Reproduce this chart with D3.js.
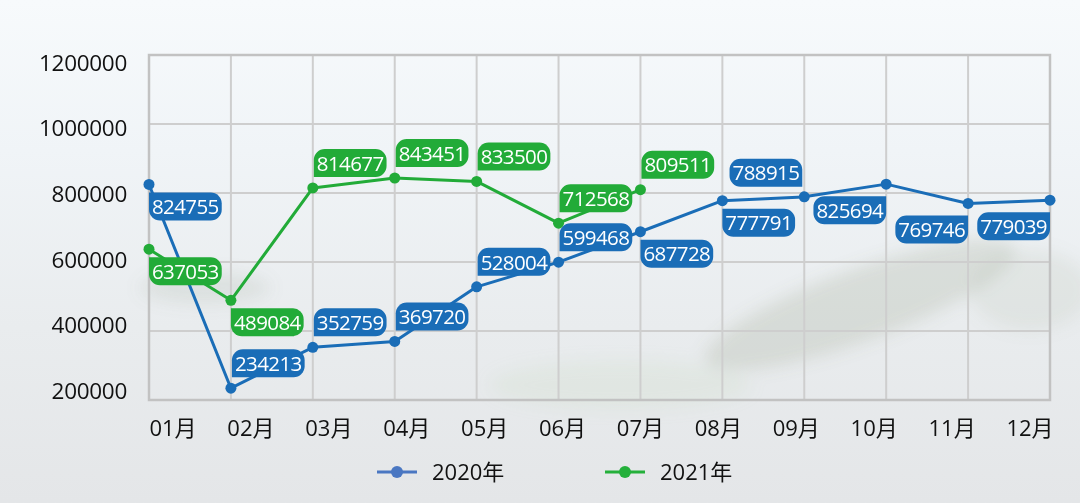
<!DOCTYPE html>
<html><head><meta charset="utf-8">
<script src="https://cdn.jsdelivr.net/npm/d3@7"></script>
<style>html,body{margin:0;padding:0;overflow:hidden;background:#eceff1}</style>
</head><body><svg id="c" width="1080" height="503"></svg>
<script>
const months = ["01月","02月","03月","04月","05月","06月","07月","08月","09月","10月","11月","12月"];
const values2020 = [824755,234213,352759,369720,528004,599468,687728,777791,788915,825694,769746,779039];
const values2021 = [637053,489084,814677,843451,833500,712568,809511];
const yTicks = [200000,400000,600000,800000,1000000,1200000];
const seriesNames = ["2020年","2021年"];
// label placement codes (styling only)
const place2020 = ["dr","ur","ur","ur","ur","ur","dr","dr","ul","dl","dl","dl"];
const place2021 = ["dr","dr","ur","ur","ur","ur","ur"];

(function(){
const W = 1080, H = 503;
const svg = d3.select("#c");
const defs = svg.append("defs");

const bg = defs.append("linearGradient").attr("id","bg").attr("x1",0).attr("y1",0).attr("x2",0).attr("y2",1);
bg.append("stop").attr("offset","0%").attr("stop-color","#f7fafc");
bg.append("stop").attr("offset","30%").attr("stop-color","#f0f4f7");
bg.append("stop").attr("offset","65%").attr("stop-color","#e9ecee");
bg.append("stop").attr("offset","100%").attr("stop-color","#e4e6e8");
const blur = defs.append("filter").attr("id","blur").attr("x","-50%").attr("y","-50%").attr("width","200%").attr("height","200%");
blur.append("feGaussianBlur").attr("stdDeviation",8);

svg.append("rect").attr("width",W).attr("height",H).attr("fill","url(#bg)");

// faint scenery
const scen = svg.append("g").attr("filter","url(#blur)");
scen.append("ellipse").attr("cx",860).attr("cy",305).attr("rx",165).attr("ry",36)
  .attr("transform","rotate(-20 860 305)").attr("fill","#7a8769").attr("opacity",0.17);
scen.append("ellipse").attr("cx",620).attr("cy",385).attr("rx",130).attr("ry",24)
  .attr("fill","#c4d6b6").attr("opacity",0.18);
scen.append("ellipse").attr("cx",205).attr("cy",288).attr("rx",65).attr("ry",16)
  .attr("fill","#8a977c").attr("opacity",0.14);
scen.append("ellipse").attr("cx",1030).attr("cy",290).attr("rx",60).attr("ry",40)
  .attr("fill","#9aa58a").attr("opacity",0.12);

const pLeft = 149, pRight = 1050, pTop = 55, pBottom = 400;
const x = d3.scalePoint().domain(months).range([pLeft, pRight]);
const xl = d3.scalePoint().domain(months).range([173, 1030]);
const y = d3.scaleLinear().domain([200000,1200000]).range([pBottom, pTop]);
const yl = d3.scaleLinear().domain([200000,1200000]).range([391, 63]);

// grid
const grid = svg.append("g");
grid.selectAll("line.h").data(yTicks).join("line").attr("class","h")
  .attr("x1",pLeft).attr("x2",pRight).attr("y1",d=>y(d)).attr("y2",d=>y(d))
  .attr("stroke","#cecece").attr("stroke-width",2);
grid.selectAll("line.v").data(months).join("line").attr("class","v")
  .attr("y1",pTop).attr("y2",pBottom).attr("x1",d=>x(d)).attr("x2",d=>x(d))
  .attr("stroke","#cecece").attr("stroke-width",2);
svg.append("rect").attr("x",pLeft).attr("y",pTop).attr("width",pRight-pLeft).attr("height",pBottom-pTop)
  .attr("fill","none").attr("stroke","#c2c2c2").attr("stroke-width",2.5);

// axis labels
svg.append("g").selectAll("text").data(yTicks).join("text")
  .attr("x",127).attr("y",d=>yl(d)).attr("dy","0.35em").attr("text-anchor","end")
  .attr("font-family","'Open Sans', sans-serif").attr("font-size",22.5).attr("fill","#111")
  .attr("letter-spacing","-0.3px")
  .text(d=>d);
svg.append("g").selectAll("text").data(months).join("text")
  .attr("x",d=>xl(d)).attr("y",428).attr("dy","0.35em").attr("text-anchor","middle")
  .attr("font-family","'Open Sans','Noto Sans CJK SC', sans-serif").attr("font-size",22).attr("fill","#111")
  .text(d=>d);

const series = [
  {name: seriesNames[0], vals: values2020, place: place2020, color:"#1a6db7", legend:"#4a77c2"},
  {name: seriesNames[1], vals: values2021, place: place2021, color:"#22ab38", legend:"#24b03b"}
];

const line = d3.line().x((d,i)=>x(months[i])).y(d=>y(d));
series.forEach(s=>{
  svg.append("path").datum(s.vals).attr("d",line).attr("fill","none")
    .attr("stroke",s.color).attr("stroke-width",3).attr("stroke-linejoin","round");
  svg.append("g").selectAll("circle").data(s.vals).join("circle")
    .attr("cx",(d,i)=>x(months[i])).attr("cy",d=>y(d)).attr("r",5.5).attr("fill",s.color);
});

function boxPath(x0,y0,w,h,r,sq){
  const rr = [r,r,r,r]; // tl,tr,br,bl
  const idx = {tl:0,tr:1,br:2,bl:3}[sq];
  rr[idx] = 0;
  return `M${x0+rr[0]},${y0} H${x0+w-rr[1]} ${rr[1]?`A${rr[1]},${rr[1]} 0 0 1 ${x0+w},${y0+rr[1]}`:""}
    V${y0+h-rr[2]} ${rr[2]?`A${rr[2]},${rr[2]} 0 0 1 ${x0+w-rr[2]},${y0+h}`:""}
    H${x0+rr[3]} ${rr[3]?`A${rr[3]},${rr[3]} 0 0 1 ${x0},${y0+h-rr[3]}`:""}
    V${y0+rr[0]} ${rr[0]?`A${rr[0]},${rr[0]} 0 0 1 ${x0+rr[0]},${y0}`:""} Z`;
}

const labels = svg.append("g");
series.forEach(s=>{
  s.vals.forEach((v,i)=>{
    const px = x(months[i]), py = y(v);
    const g = labels.append("g");
    const t = g.append("text").attr("font-family","'Open Sans', sans-serif").attr("font-size",20.5)
      .attr("letter-spacing","-0.6px")
      .attr("fill","#fff").attr("text-anchor","middle").attr("dy","0.35em").text(v);
    const tw = t.node().getComputedTextLength();
    const w = tw + 6, h = 28;
    let x0, y0, sq;
    const p = s.place[i];
    if (p==="ur"){ x0 = px+1; y0 = py-11-h; sq="bl"; }
    else if (p==="dr"){ x0 = px; y0 = py+8; sq="tl"; }
    else if (p==="ul"){ x0 = px-2-w; y0 = py-10-h; sq="br"; }
    else { x0 = px-w; y0 = py+12; sq="tr"; }
    g.insert("path","text").attr("d",boxPath(x0,y0,w,h,11,sq)).attr("fill",s.color);
    t.attr("x",x0+w/2).attr("y",y0+h/2+0.5);
  });
});

// legend
const legX = [397, 625];
series.forEach((s,i)=>{
  const g = svg.append("g");
  g.append("line").attr("x1",legX[i]-20).attr("x2",legX[i]+20).attr("y1",472).attr("y2",472)
    .attr("stroke",s.legend).attr("stroke-width",3);
  g.append("circle").attr("cx",legX[i]).attr("cy",472).attr("r",6).attr("fill",s.legend);
  g.append("text").attr("x",legX[i]+35).attr("y",472).attr("dy","0.35em")
    .attr("font-family","'Open Sans','Noto Sans CJK SC', sans-serif").attr("font-size",22).attr("fill","#111")
    .text(s.name);
});
})();
</script></body></html>
